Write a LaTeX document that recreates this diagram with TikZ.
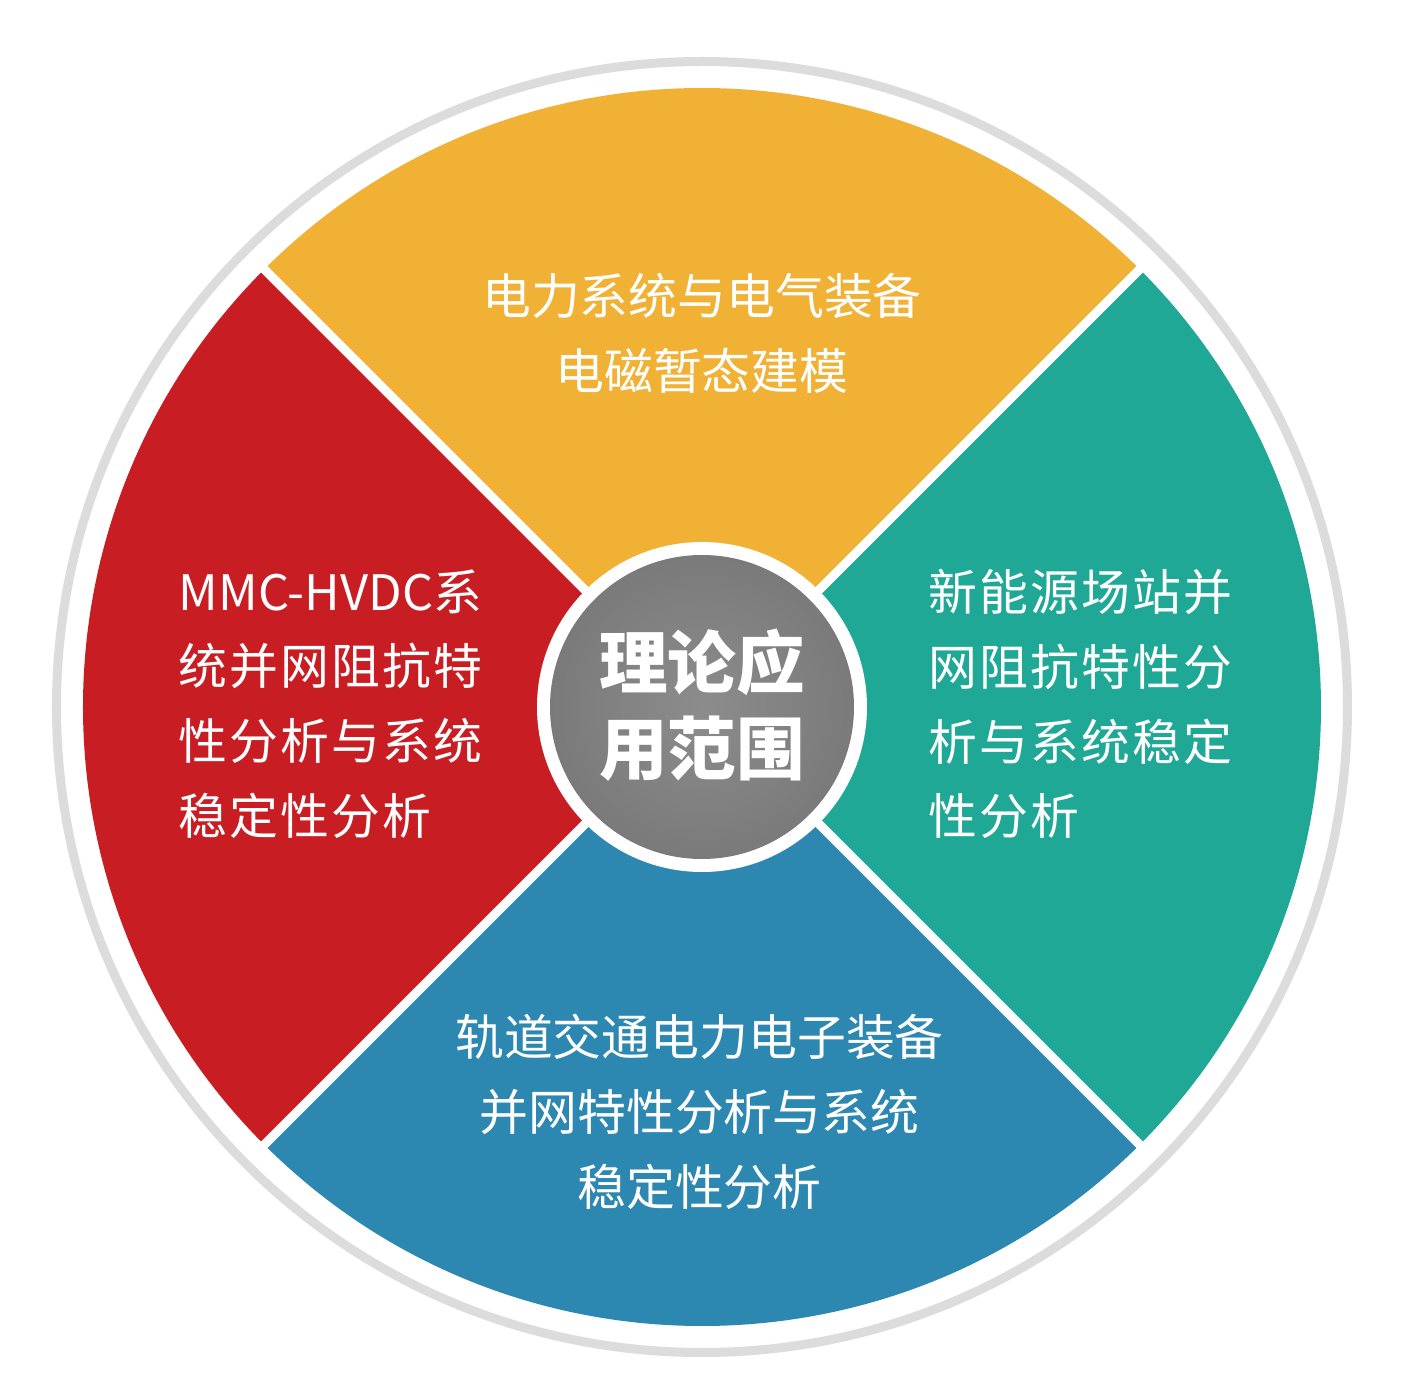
\documentclass[tikz,border=0pt]{standalone}
\usepackage{fontspec}
\newfontfamily\cjk{Noto Sans CJK SC}
\newfontfamily\cjkwide{Noto Sans CJK SC}[LetterSpace=4.5]
\definecolor{sectorYellow}{HTML}{F0B135}
\definecolor{sectorRed}{HTML}{C91D24}
\definecolor{sectorTeal}{HTML}{1FA896}
\definecolor{sectorBlue}{HTML}{2C87B1}
\definecolor{ringGray}{HTML}{DCDCDC}
\definecolor{hubLight}{HTML}{8C8C8C}
\definecolor{hubDark}{HTML}{6E6E6E}
\pgfdeclareradialshading{hubShade}{\pgfpoint{0bp}{0bp}}{color(0bp)=(hubLight); color(42bp)=(hubDark); color(50bp)=(hubDark)}

\begin{document}
\begin{tikzpicture}[sectorText/.style={text=white, inner sep=0, font=\cjk\fontsize{13.9}{21.3}\selectfont},
  sideText/.style={sectorText, align=left, anchor=west, font=\cjkwide\fontsize{13.9}{21.3}\selectfont},
  divider/.style={white, line width=0.09cm}]
\useasboundingbox (-7.02,-6.93) rectangle (7.06,7.07);
\fill[white] (-7.02,-6.93) rectangle (7.06,7.07);
\coordinate (hubCentre) at (0,0);

\draw[ringGray, line width=0.09cm] (hubCentre) circle (6.455);

\fill[sectorYellow] (hubCentre) -- (45:6.19) arc[start angle=45, end angle=135, radius=6.19] -- cycle;
\fill[sectorRed] (hubCentre) -- (135:6.19) arc[start angle=135, end angle=225, radius=6.19] -- cycle;
\fill[sectorBlue] (hubCentre) -- (225:6.19) arc[start angle=225, end angle=315, radius=6.19] -- cycle;
\fill[sectorTeal] (hubCentre) -- (-45:6.19) arc[start angle=-45, end angle=45, radius=6.19] -- cycle;

\coordinate (cutNorthEast) at (45:6.3);
\coordinate (cutSouthWest) at (225:6.3);
\coordinate (cutNorthWest) at (135:6.3);
\coordinate (cutSouthEast) at (315:6.3);
\draw[divider] (cutNorthEast) -- (cutSouthWest);
\draw[divider] (cutNorthWest) -- (cutSouthEast);

\fill[white] (hubCentre) circle (1.65);
\shade[shading=hubShade] (hubCentre) circle (1.52);
\node[text=white, inner sep=0, align=center, font=\cjk\bfseries\fontsize{19.5}{24.5}\selectfont](hub) at (0,0.02){理论应\\用范围};

\node[sectorText, align=center](modelling) at (0,3.735){电力系统与电气装备\\电磁暂态建模};
\node[sideText](hvdc) at (-5.24,0.03){{\cjk MMC-HVDC}系\\统并网阻抗特\\性分析与系统\\稳定性分析};
\node[sideText](renewable) at (2.26,0.03){新能源场站并\\网阻抗特性分\\析与系统稳定\\性分析};
\node[sectorText, align=center](railway) at (-0.025,-4.05){轨道交通电力电子装备\\并网特性分析与系统\\稳定性分析};

\end{tikzpicture}
\end{document}
